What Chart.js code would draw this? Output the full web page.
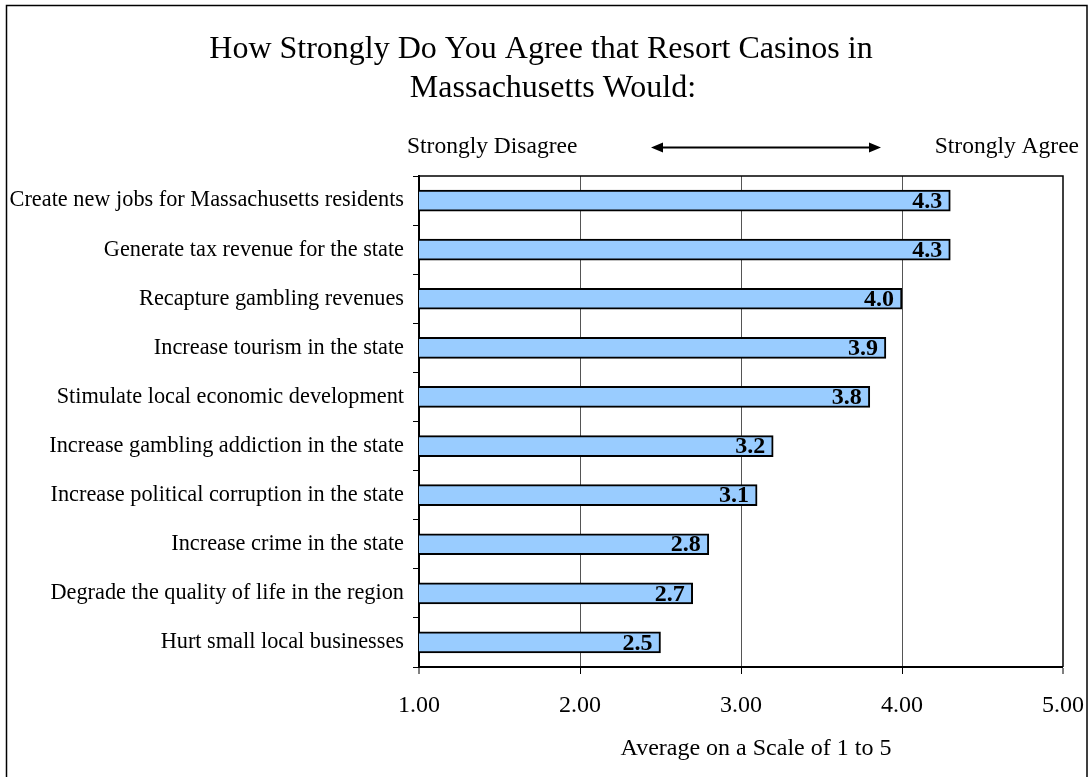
<!DOCTYPE html>
<html>
<head>
<meta charset="utf-8">
<script src="https://cdn.jsdelivr.net/npm/chart.js@4"></script>
<style>
  html, body { margin: 0; padding: 0; background: #fff; }
  #wrap { width: 1090px; height: 777px; }
</style>
</head>
<body>
<div id="wrap"><canvas id="chart" width="1090" height="777"></canvas></div>
<script>
// data
const categories = [
  'Create new jobs for Massachusetts residents',
  'Generate tax revenue for the state',
  'Recapture gambling revenues',
  'Increase tourism in the state',
  'Stimulate local economic development',
  'Increase gambling addiction in the state',
  'Increase political corruption in the state',
  'Increase crime in the state',
  'Degrade the quality of life in the region',
  'Hurt small local businesses'
];
const averages = [4.3, 4.3, 4.0, 3.9, 3.8, 3.2, 3.1, 2.8, 2.7, 2.5];
const xTicks = [1, 2, 3, 4, 5];
const titleLines = ['How Strongly Do You Agree that Resort Casinos in', 'Massachusetts Would:'];
const leftNote = 'Strongly Disagree';
const rightNote = 'Strongly Agree';
const xTitle = 'Average on a Scale of 1 to 5';

const FONT = '"Liberation Serif", "Times New Roman", serif';

// texts, arrow, frame and value labels
const decor = {
  id: 'decor',
  afterDatasetsDraw(chart) {
    const ctx = chart.ctx;
    const area = chart.chartArea;
    ctx.save();
    ctx.fillStyle = '#000';
    ctx.strokeStyle = '#000';

    // outer frame
    ctx.lineWidth = 1.5;
    ctx.strokeRect(6.5, 5.5, 1080.5, 800);

    // top and right plot border
    ctx.lineWidth = 1.5;
    ctx.beginPath();
    ctx.moveTo(area.left, area.top);
    ctx.lineTo(area.right, area.top);
    ctx.lineTo(area.right, area.bottom);
    ctx.stroke();

    // title
    ctx.font = '32px ' + FONT;
    ctx.textAlign = 'center';
    ctx.textBaseline = 'alphabetic';
    ctx.fillText(titleLines[0], 541, 58);
    ctx.fillText(titleLines[1], 553, 97);

    // scale notes
    ctx.font = '23.5px ' + FONT;
    ctx.textAlign = 'left';
    ctx.fillText(leftNote, 407, 153);
    ctx.textAlign = 'right';
    ctx.fillText(rightNote, 1079, 153);

    // double arrow
    const ay = 147.5, ax1 = 651, ax2 = 881;
    ctx.lineWidth = 2;
    ctx.beginPath();
    ctx.moveTo(ax1 + 8, ay);
    ctx.lineTo(ax2 - 8, ay);
    ctx.stroke();
    ctx.beginPath();
    ctx.moveTo(ax1, ay); ctx.lineTo(ax1 + 12, ay - 5); ctx.lineTo(ax1 + 12, ay + 5); ctx.closePath();
    ctx.moveTo(ax2, ay); ctx.lineTo(ax2 - 12, ay - 5); ctx.lineTo(ax2 - 12, ay + 5); ctx.closePath();
    ctx.fill();

    // x axis title
    ctx.font = '24px ' + FONT;
    ctx.textAlign = 'center';
    ctx.fillText(xTitle, 756, 755);

    // value labels at bar ends
    const meta = chart.getDatasetMeta(0);
    ctx.font = 'bold 24px ' + FONT;
    ctx.textAlign = 'right';
    ctx.textBaseline = 'middle';
    meta.data.forEach((bar, i) => {
      ctx.fillText(averages[i].toFixed(1), bar.x - 8, bar.y + 1);
    });
    ctx.restore();
  }
};

new Chart(document.getElementById('chart'), {
  type: 'bar',
  data: {
    labels: categories,
    datasets: [{
      data: averages,
      backgroundColor: '#99CCFF',
      borderColor: '#000',
      borderWidth: 2,
      borderSkipped: false,
      barThickness: 21
    }]
  },
  options: {
    indexAxis: 'y',
    responsive: false,
    animation: false,
    layout: { padding: { left: 0, right: 27, top: 176, bottom: 0 } },
    plugins: {
      legend: { display: false },
      tooltip: { enabled: false }
    },
    scales: {
      x: {
        type: 'linear',
        min: 1,
        max: 5,
        afterBuildTicks(scale) {
          scale.ticks = xTicks.map(v => ({ value: v }));
        },
        afterFit(scale) {
          scale.height = 110;
          scale.paddingLeft = 0;
          scale.paddingRight = 0;
        },
        grid: {
          color: '#555',
          lineWidth: ctx => (ctx.tick && (ctx.tick.value === 1 || ctx.tick.value === 5)) ? 0 : 1,
          tickColor: '#000',
          tickLength: 7,
          tickWidth: 1
        },
        border: { color: '#000', width: 2 },
        ticks: {
          color: '#000',
          font: { family: FONT, size: 24 },
          padding: 17,
          maxRotation: 0,
          callback: v => Number(v).toFixed(2)
        }
      },
      y: {
        afterFit(scale) { scale.width = 419; },
        grid: {
          drawOnChartArea: false,
          offset: true,
          tickColor: '#000',
          tickLength: 6,
          tickWidth: 1
        },
        border: { color: '#000', width: 2 },
        ticks: {
          color: '#000',
          font: { family: FONT, size: 22.3 },
          padding: 9
        }
      }
    }
  },
  plugins: [decor]
});
</script>
</body>
</html>
